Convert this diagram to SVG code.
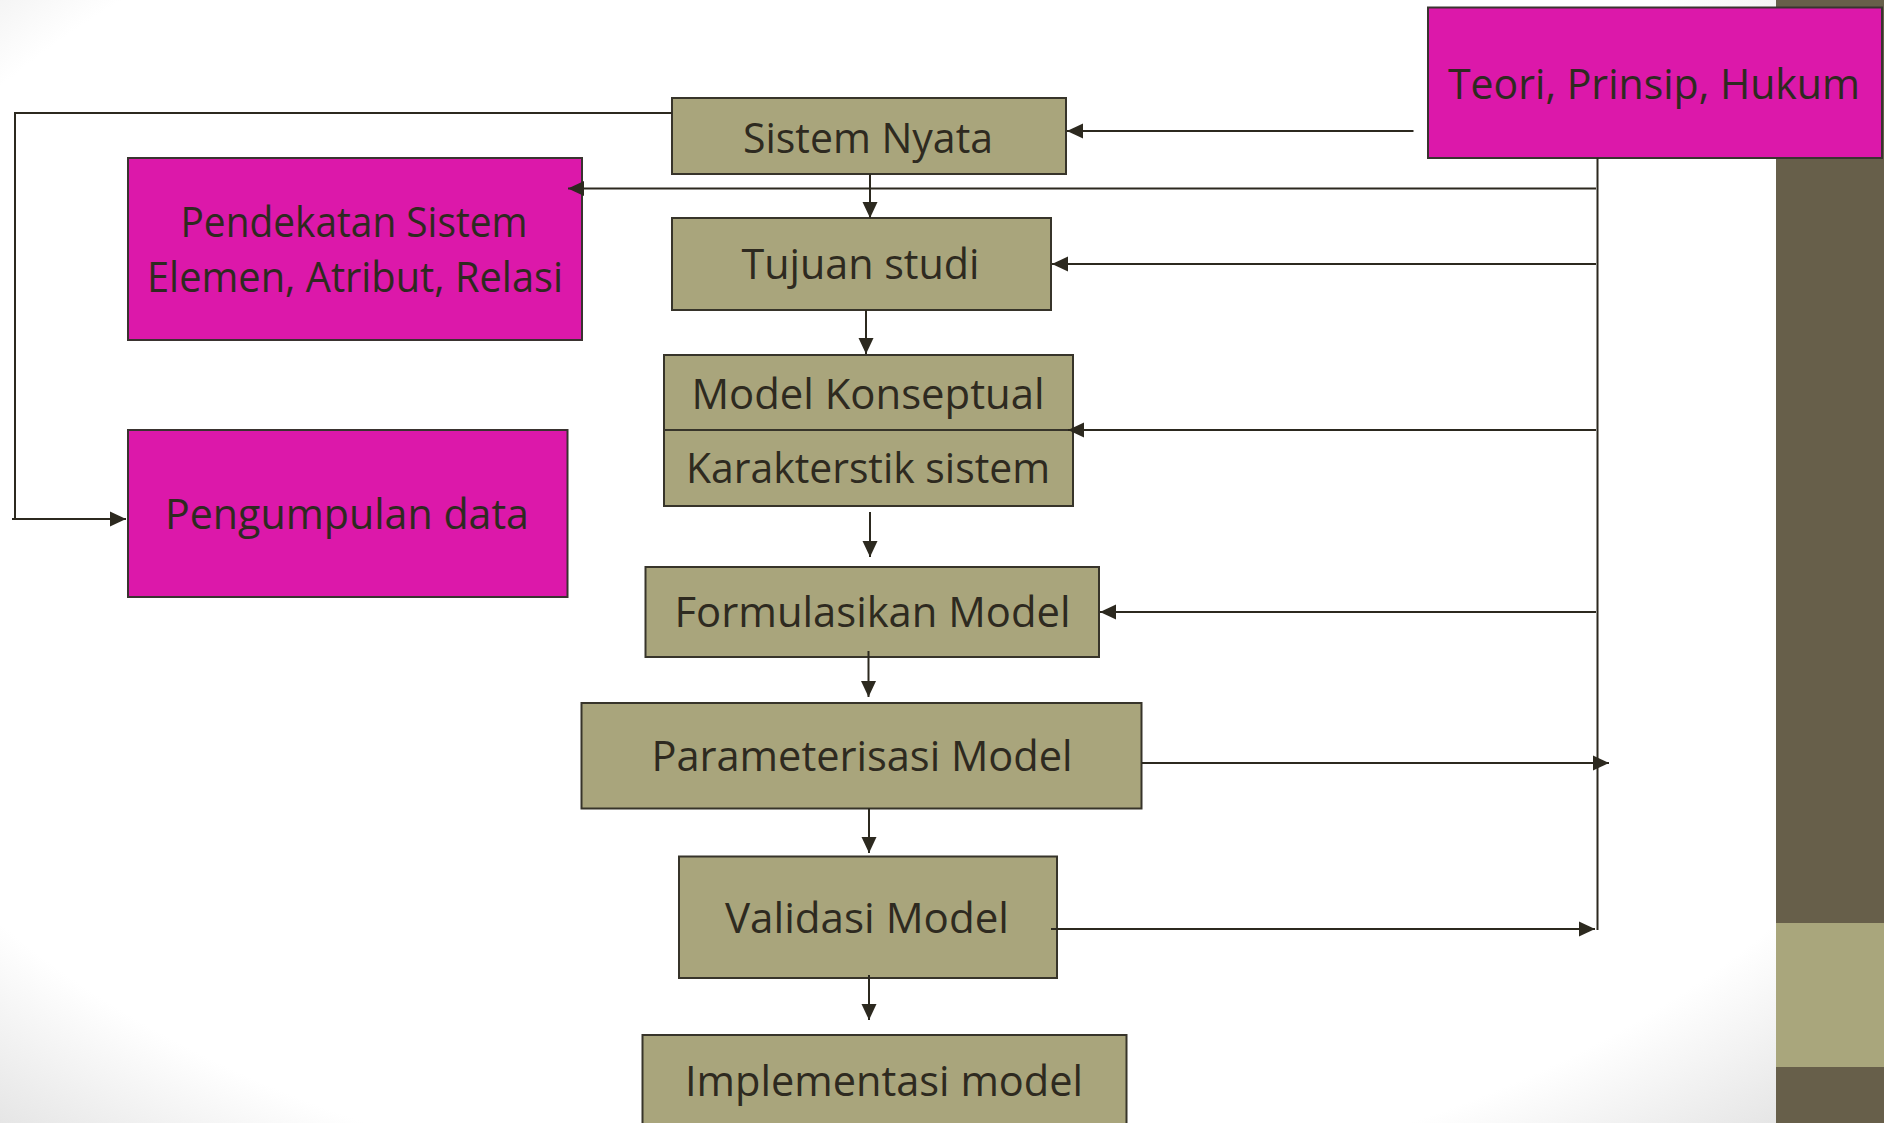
<svg xmlns="http://www.w3.org/2000/svg" width="1884" height="1123" viewBox="0 0 1884 1123">
  <defs>
    <radialGradient id="bgShade" cx="0.5" cy="0.45" r="0.76" gradientUnits="objectBoundingBox">
      <stop offset="0" stop-color="#ffffff"/>
      <stop offset="0.82" stop-color="#ffffff"/>
      <stop offset="1" stop-color="#e2e2e2"/>
    </radialGradient>
    <marker id="arrow" markerUnits="userSpaceOnUse" markerWidth="16" markerHeight="16" viewBox="0 0 16 16" refX="16" refY="8" orient="auto">
      <path d="M0,0.5 L16,8 L0,15.5 Z" fill="#2c291f"/>
    </marker>
    <style>
      .olive { fill: #a9a57c; stroke: #37342a; stroke-width: 2; }
      .magenta { fill: #dc18aa; stroke: #3a3330; stroke-width: 2; }
      .label { font-family: "Open Sans", "Noto Sans", "Liberation Sans", sans-serif; font-size: 42px; fill: #2e2a20; text-anchor: middle; }
      .wire { fill: none; stroke: #2c291f; stroke-width: 2; }
      .wire-arrow { fill: none; stroke: #2c291f; stroke-width: 2; marker-end: url(#arrow); }
    </style>
  </defs>

  <!-- page background and side bar -->
  <rect x="0" y="0" width="1776" height="1123" fill="url(#bgShade)"/>
  <rect x="1776" y="0" width="108" height="1123" fill="#675f4a"/>
  <rect x="1776" y="923" width="108" height="144" fill="#a9a67c"/>

  <g id="teori">
    <rect class="magenta" x="1428" y="7.5" width="454" height="150.5"/>
    <text class="label" x="1654" y="99" textLength="412" lengthAdjust="spacingAndGlyphs">Teori, Prinsip, Hukum</text>
  </g>

  <g id="sistem-nyata">
    <rect class="olive" x="672" y="98" width="394" height="76"/>
    <text class="label" x="868" y="153" textLength="250" lengthAdjust="spacingAndGlyphs">Sistem Nyata</text>
  </g>

  <g id="pendekatan">
    <rect class="magenta" x="128" y="158" width="454" height="182"/>
    <text class="label" x="354" y="237" textLength="347" lengthAdjust="spacingAndGlyphs">Pendekatan Sistem</text>
    <text class="label" x="355" y="292" textLength="416" lengthAdjust="spacingAndGlyphs">Elemen, Atribut, Relasi</text>
  </g>

  <g id="tujuan">
    <rect class="olive" x="672" y="218" width="379" height="92"/>
    <text class="label" x="860.5" y="279" textLength="238" lengthAdjust="spacingAndGlyphs">Tujuan studi</text>
  </g>

  <g id="model-konseptual">
    <rect class="olive" x="664" y="355" width="409" height="151"/>
    <line x1="664" y1="430" x2="1073" y2="430" stroke="#37342a" stroke-width="2"/>
    <text class="label" x="868" y="409" textLength="353" lengthAdjust="spacingAndGlyphs">Model Konseptual</text>
    <text class="label" x="868" y="483" textLength="364" lengthAdjust="spacingAndGlyphs">Karakterstik sistem</text>
  </g>

  <g id="pengumpulan">
    <rect class="magenta" x="128" y="430" width="439.5" height="167"/>
    <text class="label" x="347" y="529" textLength="364" lengthAdjust="spacingAndGlyphs">Pengumpulan data</text>
  </g>

  <g id="formulasikan">
    <rect class="olive" x="645.5" y="567" width="453.5" height="90"/>
    <text class="label" x="872.5" y="627" textLength="396" lengthAdjust="spacingAndGlyphs">Formulasikan Model</text>
  </g>

  <g id="parameterisasi">
    <rect class="olive" x="581.5" y="703" width="560" height="105.5"/>
    <text class="label" x="862" y="771" textLength="421" lengthAdjust="spacingAndGlyphs">Parameterisasi Model</text>
  </g>

  <g id="validasi">
    <rect class="olive" x="679" y="856.5" width="378" height="121.5"/>
    <text class="label" x="867" y="933" textLength="284" lengthAdjust="spacingAndGlyphs">Validasi Model</text>
  </g>

  <g id="implementasi">
    <rect class="olive" x="642.5" y="1035" width="484" height="100"/>
    <text class="label" x="884" y="1096" textLength="398" lengthAdjust="spacingAndGlyphs">Implementasi model</text>
  </g>

  <!-- connectors, drawn over the boxes -->
  <g id="connectors">
    <!-- feedback trunk on the right -->
    <line class="wire" x1="1597.5" y1="158" x2="1597.5" y2="930"/>
    <path class="wire-arrow" d="M1413.5,131 H1067"/>
    <path class="wire-arrow" d="M1596,188.5 H568"/>
    <path class="wire-arrow" d="M1596,264 H1052"/>
    <path class="wire-arrow" d="M1596,430 H1068"/>
    <path class="wire-arrow" d="M1596,612 H1100"/>
    <path class="wire-arrow" d="M1142,763 H1609"/>
    <path class="wire-arrow" d="M1051,929 H1595"/>
    <!-- left loop to data collection -->
    <path class="wire-arrow" d="M672,113 H15 V519 H126"/>
    <line class="wire" x1="12" y1="519" x2="16" y2="519"/>
    <!-- main vertical flow -->
    <path class="wire-arrow" d="M870,174 V218"/>
    <path class="wire-arrow" d="M866,310 V354"/>
    <path class="wire-arrow" d="M870,512 V557"/>
    <path class="wire-arrow" d="M868.5,651 V697"/>
    <path class="wire-arrow" d="M869,808 V853"/>
    <path class="wire-arrow" d="M869,975 V1020"/>
  </g>
</svg>
